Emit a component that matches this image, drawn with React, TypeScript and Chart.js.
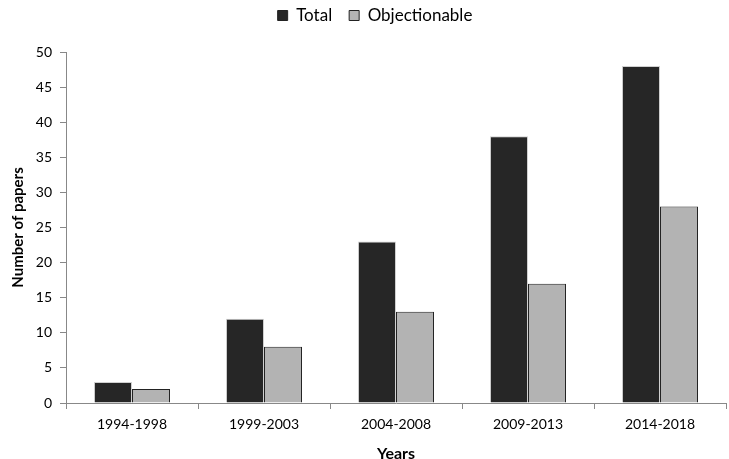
import React, { useEffect, useRef } from "react";
import { Chart, registerables } from "chart.js";

Chart.register(...registerables);

const categories = ["1994-1998", "1999-2003", "2004-2008", "2009-2013", "2014-2018"];
const totalValues = [3, 12, 23, 38, 48];
const objectionableValues = [2, 8, 13, 17, 28];
const yTicks = [0, 5, 10, 15, 20, 25, 30, 35, 40, 45, 50];

const FONT = "Lato, 'Open Sans', sans-serif";

const legendGap = {
  id: "legendGap",
  beforeInit(chart: any) {
    const orig = chart.legend.fit;
    chart.legend.fit = function () {
      orig.call(this);
      this.height += 18;
    };
  },
  afterLayout(chart: any) {
    if (chart.legend) {
      chart.legend.left += 10;
      chart.legend.right += 10;
    }
  },
};

export default function App() {
  const ref = useRef<HTMLCanvasElement | null>(null);
  useEffect(() => {
    if (!ref.current) return;
    const chart = new Chart(ref.current, {
      type: "bar",
      plugins: [legendGap],
      data: {
        labels: categories,
        datasets: [
          {
            label: "Total",
            data: totalValues,
            backgroundColor: "#262626",
            borderColor: "#d0d0d0",
            borderWidth: 1,
            barPercentage: 1,
            categoryPercentage: 0.576,
          },
          {
            label: "Objectionable",
            data: objectionableValues,
            backgroundColor: "#b3b3b3",
            borderColor: "#222222",
            borderWidth: 1,
            barPercentage: 1,
            categoryPercentage: 0.576,
          },
        ],
      },
      options: {
        animation: false,
        responsive: false,
        maintainAspectRatio: false,
        layout: { padding: { left: 4, right: 3, top: -10, bottom: -4 } },
        plugins: {
          legend: {
            position: "top",
            labels: {
              boxWidth: 10,
              boxHeight: 10,
              color: "#000",
              font: { family: FONT, size: 17 },
              padding: 17,
              generateLabels: (c) => {
                const items = Chart.defaults.plugins.legend.labels.generateLabels(c);
                items.forEach((it) => {
                  it.strokeStyle = "#222";
                  it.lineWidth = 1;
                });
                return items;
              },
            },
          },
          tooltip: { enabled: false },
        },
        scales: {
          x: {
            grid: {
              offset: true,
              drawOnChartArea: false,
              drawTicks: true,
              tickLength: 6,
              color: "#888",
            },
            border: { color: "#888" },
            ticks: { color: "#000", font: { family: FONT, size: 14 }, padding: 7 },
            title: {
              display: true,
              text: "Years",
              color: "#000",
              font: { family: FONT, size: 16, weight: "bold" },
              padding: { top: 4, bottom: 0 },
            },
          },
          y: {
            min: 0,
            max: 50,
            afterBuildTicks: (axis) => {
              axis.ticks = yTicks.map((v) => ({ value: v }));
            },
            afterFit: (axis) => {
              axis.width = 62;
            },
            grid: {
              drawOnChartArea: false,
              drawTicks: true,
              tickLength: 6,
              color: "#888",
            },
            border: { color: "#888" },
            ticks: { color: "#000", font: { family: FONT, size: 14 }, padding: 8 },
            title: {
              display: true,
              text: "Number of papers",
              color: "#000",
              font: { family: FONT, size: 15, weight: "bold" },
              padding: { top: 5, bottom: 4 },
            },
          },
        },
      },
    });
    return () => chart.destroy();
  }, []);
  return (
    <div style={{ position: "fixed", left: 0, top: 0, width: 729, height: 459, background: "#fff" }}>
      <canvas ref={ref} width={729} height={459} style={{ width: 729, height: 459 }} />
    </div>
  );
}
